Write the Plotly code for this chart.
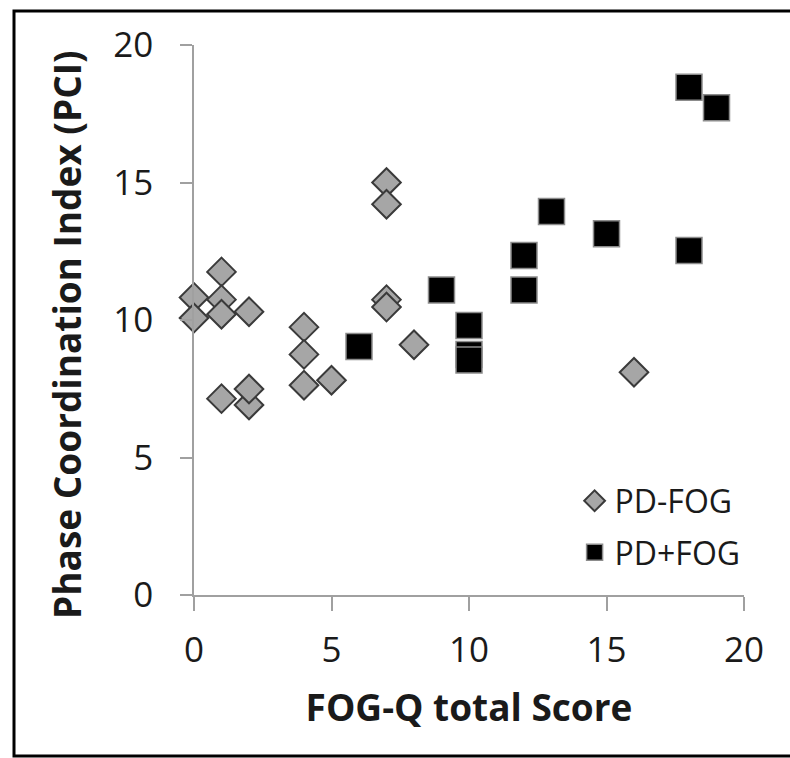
import plotly.graph_objects as go

# PD-FOG (grey diamonds)
pd_minus_x = [0, 0, 1, 1, 1, 1, 2, 2, 2, 4, 4, 4, 5, 7, 7, 7, 7, 8, 16]
pd_minus_y = [10.82, 10.07, 11.75, 10.74, 10.21, 7.14, 10.3, 6.91, 7.49,
              9.74, 8.75, 7.63, 7.81, 15.0, 14.21, 10.74, 10.47, 9.1, 8.1]

# PD+FOG (black squares)
pd_plus_x = [6, 9, 10, 10, 10, 12, 12, 13, 15, 18, 19, 18]
pd_plus_y = [9.04, 11.09, 9.8, 8.75, 8.55, 12.35, 11.09, 13.95, 13.14, 18.46, 17.72, 12.53]

x_ticks = [0, 5, 10, 15, 20]
y_ticks = [0, 5, 10, 15, 20]

x_title = "FOG-Q total Score"
y_title = "Phase Coordination Index (PCI)"

FONT = "Open Sans"
TXT = "#1a1a1a"
fig = go.Figure()

fig.add_trace(go.Scatter(
    x=pd_minus_x, y=pd_minus_y, mode="markers", name="PD-FOG",
    cliponaxis=False, legendgroup="a",
    marker=dict(symbol="diamond", size=22, color="#a6a6a6",
                line=dict(color="#3a3a3a", width=2)),
))
fig.add_trace(go.Scatter(
    x=pd_plus_x, y=pd_plus_y, mode="markers", name="PD+FOG",
    cliponaxis=False, legendgroup="b",
    marker=dict(symbol="square", size=26, color="#000000",
                line=dict(color="#8c8c8c", width=1.5)),
))

axis_common = dict(
    showline=True, linecolor="#a0a0a0", linewidth=1.5,
    ticks="outside", tickcolor="#a0a0a0", tickwidth=1.5,
    showgrid=False, zeroline=False,
    tickfont=dict(family=FONT, size=35, color=TXT),
)

fig.update_xaxes(
    range=[0, 20], tickvals=x_ticks, ticklen=14, ticklabelstandoff=9,
    title=dict(text="<b>" + x_title + "</b>",
               font=dict(family=FONT, size=37, color=TXT), standoff=24),
    **axis_common,
)
fig.update_yaxes(
    range=[0, 20], tickvals=y_ticks, ticklen=12,
    ticklabelstandoff=20,
    **axis_common,
)

L, T, W, H = 194, 45, 550, 550

fig.update_layout(
    width=790, height=758,
    margin=dict(l=L, r=790 - L - W, t=T, b=758 - T - H),
    paper_bgcolor="white", plot_bgcolor="white",
    showlegend=True,
    legend=dict(x=0.692, y=0.221, xanchor="left", yanchor="top",
                bgcolor="rgba(0,0,0,0)",
                font=dict(family=FONT, size=32, color=TXT),
                itemsizing="trace", tracegroupgap=7),
    annotations=[dict(text="<b>" + y_title + "</b>", textangle=-90,
                      xref="paper", yref="paper",
                      x=(66 - L) / W, y=(T + H - 335) / H,
                      xanchor="center", yanchor="middle", showarrow=False,
                      font=dict(family=FONT, size=37, color=TXT))],
    shapes=[dict(type="rect", xref="paper", yref="paper",
                 x0=(14 - L) / W, x1=(810 - L) / W,
                 y0=(T + H - 756) / H, y1=(T + H - 11) / H,
                 line=dict(color="black", width=3), layer="below")],
)

fig.write_html("out.html",
               config={"displayModeBar": False},
               post_script="document.body.style.margin='0';"
                           "document.body.style.overflow='hidden';")
